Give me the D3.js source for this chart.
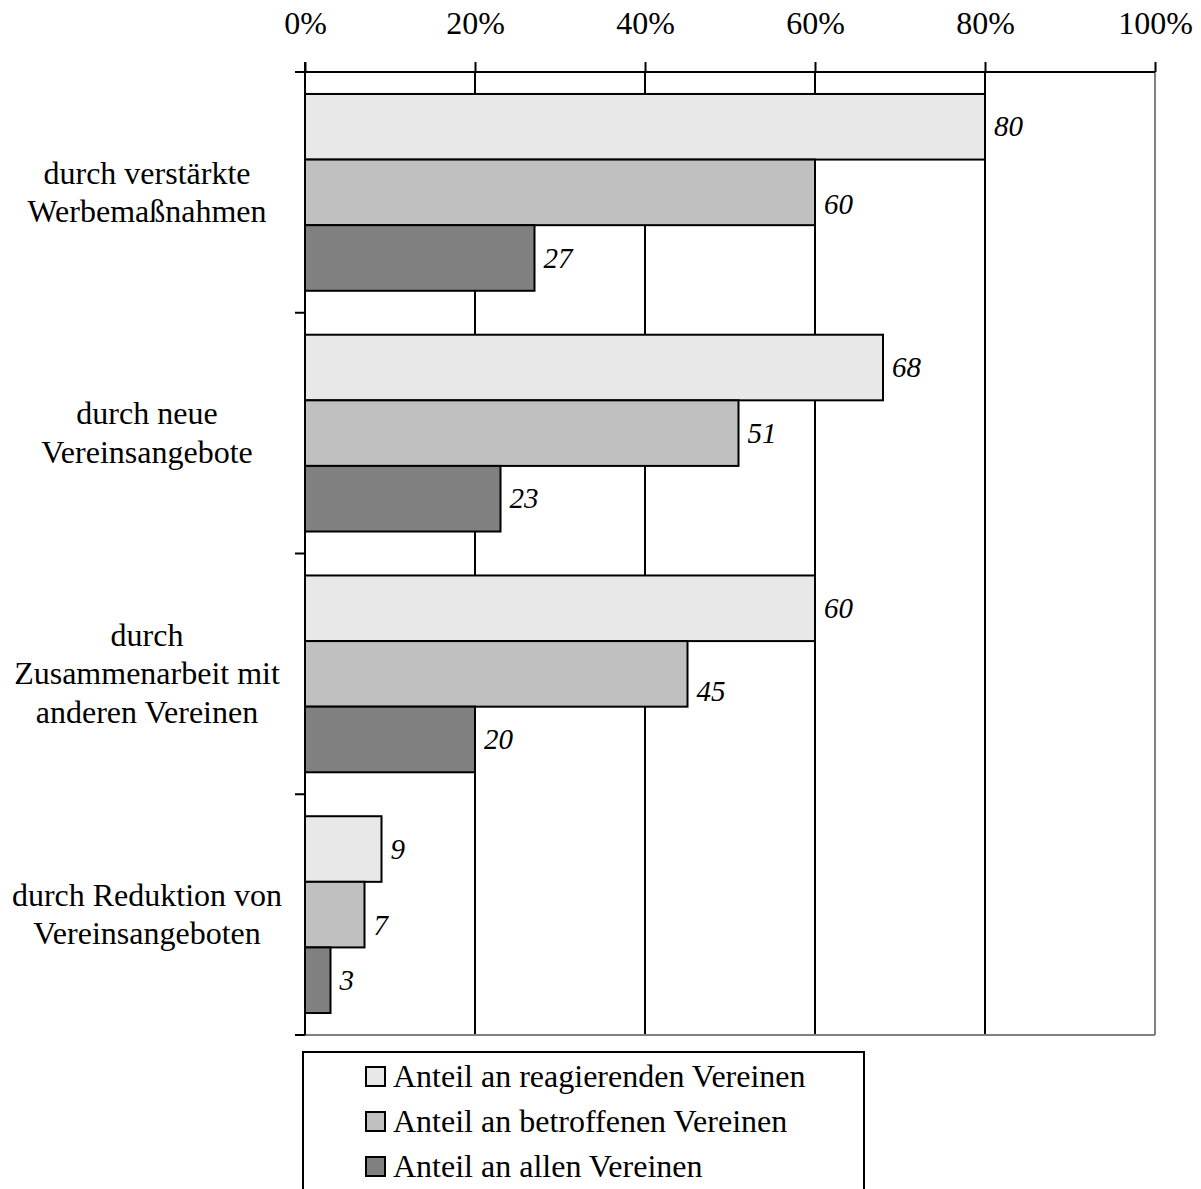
<!DOCTYPE html>
<html>
<head>
<meta charset="utf-8">
<script src="https://cdn.jsdelivr.net/npm/d3@7"></script>
<style>
  body { margin: 0; background: #fff; }
  svg { display: block; font-family: "Liberation Serif", "Times New Roman", serif; }
</style>
</head>
<body>
<svg id="chart" width="1201" height="1189"></svg>
<script>
// Categories (each label split into lines) and the three series, in percent
const categories = [
  ["durch verstärkte", "Werbemaßnahmen"],
  ["durch neue", "Vereinsangebote"],
  ["durch", "Zusammenarbeit mit", "anderen Vereinen"],
  ["durch Reduktion von", "Vereinsangeboten"]
];
const seriesNames = [
  "Anteil an reagierenden Vereinen",
  "Anteil an betroffenen Vereinen",
  "Anteil an allen Vereinen"
];
const reagierend = [80, 68, 60, 9];
const betroffen = [60, 51, 45, 7];
const alle = [27, 23, 20, 3];
const tickValues = [0, 20, 40, 60, 80, 100];
const colors = ["#e8e8e8", "#c0c0c0", "#808080"];

const series = [reagierend, betroffen, alle];
const svg = d3.select("#chart");

const plotLeft = 305, plotRight = 1155, plotTop = 72, plotBottom = 1035;
const fontFamily = "'Liberation Serif', 'Times New Roman', serif";

// vertical nudges (px) for value labels, per series and category
const labelShift = [[0, 0, 0, 0], [12, 0, 18, 11], [0, 0, 0, 0]];

const x = d3.scaleLinear().domain([0, 100]).range([plotLeft, plotRight]);
const y = d3.scaleBand().domain(d3.range(categories.length)).range([plotTop, plotBottom]);
const inner = d3.scaleBand().domain(d3.range(series.length))
  .range([0, y.bandwidth()]).paddingOuter(0.335).paddingInner(0);

// gridlines
svg.append("g").selectAll("line")
  .data(tickValues.slice(1))
  .join("line")
  .attr("x1", d => x(d)).attr("x2", d => x(d))
  .attr("y1", plotTop).attr("y2", plotBottom)
  .attr("stroke", d => d === 100 ? "#808080" : "#000")
  .attr("stroke-width", 2);

// bottom border
svg.append("line")
  .attr("x1", plotLeft).attr("x2", plotRight).attr("y1", plotBottom).attr("y2", plotBottom)
  .attr("stroke", "#808080").attr("stroke-width", 2);

// bars with italic value labels
const groups = svg.append("g").selectAll("g")
  .data(categories)
  .join("g")
  .attr("transform", (d, i) => `translate(0,${y(i)})`);

groups.each(function(_, ci) {
  const g = d3.select(this);
  series.forEach((vals, si) => {
    g.append("rect")
      .attr("x", x(0))
      .attr("y", inner(si))
      .attr("width", x(vals[ci]) - x(0))
      .attr("height", inner.bandwidth())
      .attr("fill", colors[si])
      .attr("stroke", "#000")
      .attr("stroke-width", 2);
    g.append("text")
      .attr("x", x(vals[ci]) + 9)
      .attr("y", inner(si) + inner.bandwidth() / 2 + labelShift[si][ci])
      .attr("dy", "0.33em")
      .attr("font-family", fontFamily)
      .attr("font-style", "italic")
      .attr("font-size", 29)
      .text(vals[ci]);
  });
});

// top axis
const xAxis = d3.axisTop(x).tickValues(tickValues).tickFormat(d => d + "%").tickSize(10).tickSizeOuter(0);
const gx = svg.append("g").attr("transform", `translate(0,${plotTop})`).call(xAxis);
gx.select(".domain").remove();
gx.selectAll(".tick line").attr("stroke", "#000").attr("stroke-width", 2);
gx.selectAll(".tick text")
  .attr("font-family", fontFamily)
  .attr("font-size", 32).attr("fill", "#000")
  .attr("y", -38).attr("dy", 0);
svg.append("line")
  .attr("x1", plotLeft - 10).attr("x2", plotRight).attr("y1", plotTop).attr("y2", plotTop)
  .attr("stroke", "#000").attr("stroke-width", 2);

// left axis with category separators
svg.append("line")
  .attr("x1", plotLeft).attr("x2", plotLeft).attr("y1", plotTop - 10).attr("y2", plotBottom)
  .attr("stroke", "#000").attr("stroke-width", 2);
svg.append("g").selectAll("line")
  .data(d3.range(categories.length + 1))
  .join("line")
  .attr("x1", plotLeft - 10).attr("x2", plotLeft)
  .attr("y1", i => i < categories.length ? y(i) : plotBottom)
  .attr("y2", i => i < categories.length ? y(i) : plotBottom)
  .attr("stroke", "#000").attr("stroke-width", 2);

// category labels
const lineH = 38.5;
svg.append("g").selectAll("text")
  .data(categories)
  .join("text")
  .attr("text-anchor", "middle")
  .attr("font-family", fontFamily)
  .attr("font-size", 32)
  .each(function(lines, i) {
    const cy = y(i) + y.bandwidth() / 2;
    const t = d3.select(this);
    lines.forEach((ln, k) => {
      t.append("tspan")
        .attr("x", 147)
        .attr("y", cy + (k - (lines.length - 1) / 2) * lineH)
        .attr("dy", "0.33em")
        .text(ln);
    });
  });

// legend
const lg = svg.append("g");
lg.append("rect")
  .attr("x", 303).attr("y", 1052).attr("width", 561).attr("height", 170)
  .attr("fill", "#fff").attr("stroke", "#000").attr("stroke-width", 2);
seriesNames.forEach((name, i) => {
  const base = 1087 + i * 45;
  lg.append("rect")
    .attr("x", 366).attr("y", base - 20).attr("width", 19).attr("height", 19)
    .attr("fill", colors[i]).attr("stroke", "#000").attr("stroke-width", 2);
  lg.append("text")
    .attr("x", 393).attr("y", base)
    .attr("font-family", fontFamily)
    .attr("font-size", 32)
    .text(name);
});
</script>
</body>
</html>
